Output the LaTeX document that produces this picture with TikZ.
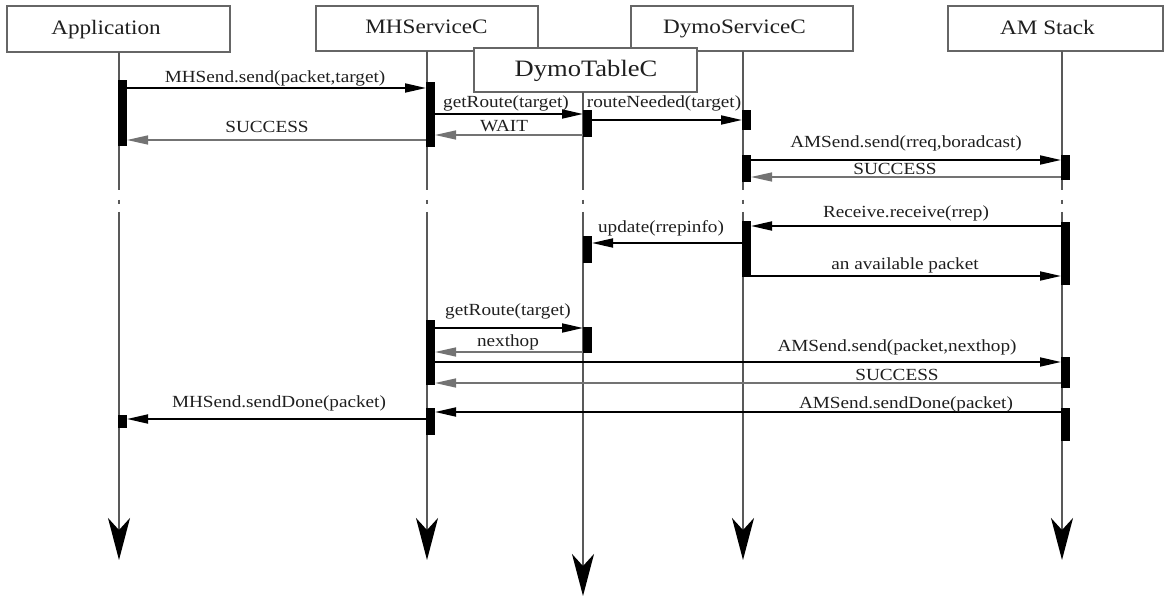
\documentclass[tikz,border=0pt]{standalone}
\usepackage{fontspec}
\setmainfont{Liberation Serif}[FakeStretch=1.13]
\usetikzlibrary{arrows.meta}

\begin{document}
\begin{tikzpicture}[x=1pt,y=-1pt,
  hbox/.style={draw=black!60, line width=1.4pt, fill=white, inner sep=0pt, outer sep=0pt},
  htext/.style={anchor=base, inner sep=0pt, text=black!88, font=\fontsize{20.5}{24}\selectfont},
  bar/.style={fill=black, inner sep=0pt, outer sep=0pt, anchor=north west, minimum width=9pt},
  life/.style={draw=black!65, line width=1.8pt},
  lifeend/.style={life, -{Stealth[length=42pt,width=22pt,inset=12pt,color=black]}},
  call/.style={draw=black, line width=1.8pt, -{Triangle[length=21pt,width=9pt]}},
  ret/.style={draw=black!55, line width=1.4pt, -{Triangle[length=21pt,width=9pt]}},
  lbl/.style={anchor=base, inner sep=0pt, text=black!88, font=\fontsize{17}{20}\selectfont},
]
\useasboundingbox (0,0) rectangle (1164,596);

% component header boxes
\node[hbox, minimum width=223pt, minimum height=46pt] (hApp) at (118.5,29) {};
\node[hbox, minimum width=222pt, minimum height=45pt] (hMH)  at (427,28.5) {};
\node[hbox, minimum width=222pt, minimum height=45pt] (hDS)  at (742,28.5) {};
\node[hbox, minimum width=215pt, minimum height=45pt] (hAM)  at (1055.5,28.5) {};
\node[hbox, minimum width=223pt, minimum height=44pt] (hDT)  at (585.5,70) {};

\node[htext] (tApp) at (106,35) {Application};
\node[htext] (tMH)  at (426.5,33.5) {MHServiceC};
\node[htext] (tDS)  at (734.5,34) {DymoServiceC};
\node[htext] (tAM)  at (1047.5,35) {AM Stack};
\node[htext, font=\fontsize{23.5}{28}\selectfont] (tDT) at (586,77) {DymoTableC};

% lifelines, each broken by a dash-dot gap
\foreach \n/\x/\top/\bot in {App/119/52/560, MH/427/51/560, DS/743/51/560, AM/1062/51/560, DT/583/92/596}{
  \coordinate (\n0) at (\x,\top);
  \coordinate (\n1) at (\x,190);
  \coordinate (\n2) at (\x,200);
  \coordinate (\n3) at (\x,204);
  \coordinate (\n4) at (\x,212);
  \coordinate (\n5) at (\x,\bot);
  \draw[life] (\n0) -- (\n1);
  \draw[life] (\n2) -- (\n3);
  \draw[lifeend] (\n4) -- (\n5);
}

% activation bars
\node[bar, minimum height=66pt] (a1) at (118,80) {};
\node[bar, minimum height=13pt] (a2) at (118,415) {};
\node[bar, minimum height=65pt] (m1) at (426,82) {};
\node[bar, minimum height=65pt] (m2) at (426,320) {};
\node[bar, minimum height=27pt] (m3) at (426,408) {};
\node[bar, minimum height=27pt] (t1) at (583,110) {};
\node[bar, minimum height=27pt] (t2) at (583,236) {};
\node[bar, minimum height=26pt] (t3) at (583,327) {};
\node[bar, minimum height=20pt] (s1) at (742,110) {};
\node[bar, minimum height=27pt] (s2) at (742,155) {};
\node[bar, minimum height=56pt] (s3) at (742,221) {};
\node[bar, minimum height=25pt] (k1) at (1061,155) {};
\node[bar, minimum height=63pt] (k2) at (1061,222) {};
\node[bar, minimum height=31pt] (k3) at (1061,357) {};
\node[bar, minimum height=33pt] (k4) at (1061,408) {};

% messages
\draw[call] (a1.east |- 0,88)  -- (m1.west |- 0,88);
\node[lbl] (l1) at (275,83) {MHSend.send(packet,target)};

\draw[call] (m1.east |- 0,114) -- (t1.west |- 0,114);
\node[lbl] (l2) at (506,108) {getRoute(target)};

\draw[ret]  (t1.west |- 0,135) -- (m1.east |- 0,135);
\node[lbl] (l3) at (504,132) {WAIT};

\draw[ret]  (m1.west |- 0,140) -- (a1.east |- 0,140);
\node[lbl] (l4) at (267,133) {SUCCESS};

\draw[call] (t1.east |- 0,120) -- (s1.west |- 0,120);
\node[lbl] (l5) at (664,108) {routeNeeded(target)};

\draw[call] (s2.east |- 0,160) -- (k1.west |- 0,160);
\node[lbl] (l6) at (906,148) {AMSend.send(rreq,boradcast)};

\draw[ret]  (k1.west |- 0,177) -- (s2.east |- 0,177);
\node[lbl] (l7) at (895,175) {SUCCESS};

\draw[call] (k2.west |- 0,226) -- (s3.east |- 0,226);
\node[lbl] (l8) at (906,218) {Receive.receive(rrep)};

\draw[call] (s3.west |- 0,243) -- (t2.east |- 0,243);
\node[lbl] (l9) at (661,232) {update(rrepinfo)};

\draw[call] (s3.east |- 0,276) -- (k2.west |- 0,276);
\node[lbl] (l10) at (905,269) {an available packet};

\draw[call] (m2.east |- 0,328) -- (t3.west |- 0,328);
\node[lbl] (l11) at (508,315) {getRoute(target)};

\draw[ret]  (t3.west |- 0,352) -- (m2.east |- 0,352);
\node[lbl] (l12) at (508,346) {nexthop};

\draw[call] (m2.east |- 0,362) -- (k3.west |- 0,362);
\node[lbl] (l13) at (897,351) {AMSend.send(packet,nexthop)};

\draw[ret]  (k3.west |- 0,383) -- (m2.east |- 0,383);
\node[lbl] (l14) at (897,380) {SUCCESS};

\draw[call] (k4.west |- 0,412) -- (m3.east |- 0,412);
\node[lbl] (l15) at (906,408) {AMSend.sendDone(packet)};

\draw[call] (m3.west |- 0,419) -- (a2.east |- 0,419);
\node[lbl] (l16) at (279,407) {MHSend.sendDone(packet)};
\end{tikzpicture}
\end{document}
